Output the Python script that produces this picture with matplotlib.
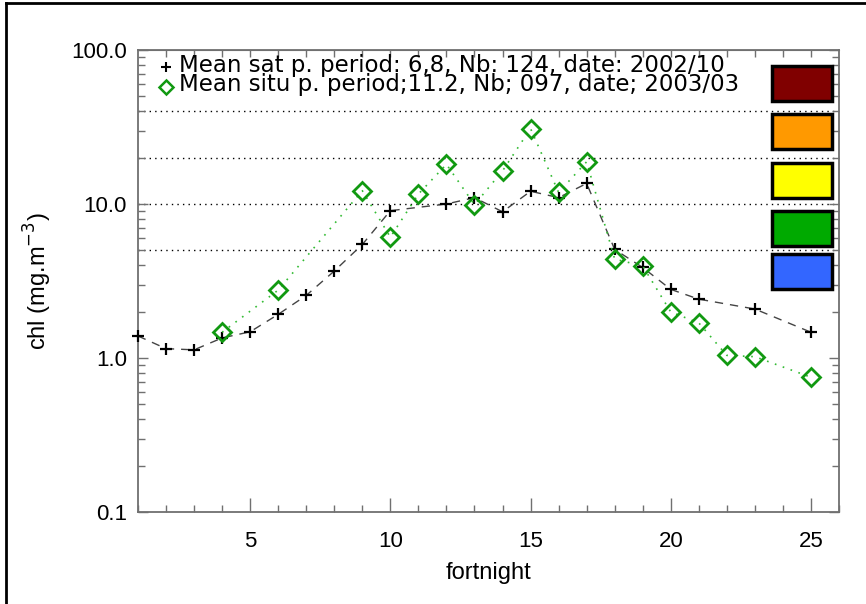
import matplotlib
matplotlib.use("Agg")
import matplotlib.pyplot as plt
from matplotlib.lines import Line2D
from matplotlib.patches import Rectangle
from matplotlib.ticker import FixedLocator, NullFormatter

# ---- data ----
sat_x = [1, 2, 3, 4, 5, 6, 7, 8, 9, 10, 12, 13, 14, 15, 16, 17, 18, 19, 20, 21, 23, 25]
sat_y = [1.39, 1.15, 1.13, 1.35, 1.48, 1.92, 2.55, 3.67, 5.46, 9.05, 10.0, 11.0,
         8.9, 12.1, 11.0, 13.6, 5.07, 3.87, 2.79, 2.41, 2.08, 1.47]
situ_x = [4, 6, 9, 10, 11, 12, 13, 14, 15, 16, 17, 18, 19, 20, 21, 22, 23, 25]
situ_y = [1.47, 2.76, 12.2, 6.09, 11.6, 18.1, 9.9, 16.4, 30.9, 11.9, 18.8, 4.39,
          3.96, 1.99, 1.69, 1.04, 1.02, 0.75]
ref_levels = [5, 10, 20, 40]
box_colors = ["#800000", "#FF9900", "#FFFF00", "#00AA00", "#3366FF"]
ytick_vals = [0.1, 1, 10, 100]
ytick_labels = ["0.1", "1.0", "10.0", "100.0"]
xtick_vals = [5, 10, 15, 20, 25]
legend_lines = ["Mean sat p. period: 6,8, Nb: 124, date: 2002/10",
                "Mean situ p. period;11.2, Nb; 097, date; 2003/03"]

W, H = 866, 604
fig = plt.figure(figsize=(W / 100, H / 100), dpi=100)
fig.patch.set_facecolor("white")

def fx(px):
    return px / W

def fy(py):
    return 1 - py / H

ax_l, ax_r, ax_t, ax_b = 138, 839, 50, 512
ax = fig.add_axes([fx(ax_l), fy(ax_b), fx(ax_r) - fx(ax_l), fy(ax_t) - fy(ax_b)])
ax.set_yscale("log")
ax.set_xlim(1, 26)
ax.set_ylim(0.1, 100)

for lv in ref_levels:
    ax.axhline(lv, color="black", linestyle=(0, (1, 3)), linewidth=1.0, zorder=1)

ax.plot(sat_x, sat_y, linestyle=(0, (6, 5)), color="#444444", linewidth=1.0,
        marker="+", markersize=8, markeredgewidth=1.6, markeredgecolor="black", zorder=3,
        clip_on=False)
ax.plot(situ_x, situ_y, linestyle=(0, (1, 4)), color="#33bb33", linewidth=1.2,
        marker="D", markersize=9, markeredgewidth=2, markerfacecolor="none",
        markeredgecolor="#119911", zorder=4)

spine_c = "#707070"
for s in ax.spines.values():
    s.set_color(spine_c)
    s.set_linewidth(1.3)

tick_font = dict(family=["Liberation Sans", "DejaVu Sans"], size=16)
ax.set_yticks(ytick_vals)
ax.set_yticklabels(ytick_labels, fontdict=tick_font)
ax.yaxis.set_minor_locator(FixedLocator([m * d for d in (0.1, 1, 10) for m in range(2, 10)]))
ax.yaxis.set_minor_formatter(NullFormatter())
ax.set_xticks(xtick_vals)
ax.set_xticklabels([str(v) for v in xtick_vals], fontdict=tick_font)
ax.xaxis.set_minor_locator(FixedLocator(list(range(1, 27))))

ax.tick_params(axis="y", which="major", direction="in", length=7, width=1, color=spine_c,
               left=True, right=True, pad=8)
ax.tick_params(axis="y", which="minor", direction="in", length=5, width=1, color=spine_c,
               left=True, right=True)
ax.tick_params(axis="x", which="major", direction="in", length=10, width=1, color=spine_c,
               bottom=True, top=False, pad=14)
ax.tick_params(axis="x", which="minor", direction="in", length=5, width=1, color=spine_c,
               bottom=True, top=False)
sec = ax.secondary_xaxis("top")
sec.set_xticks(list(range(2, 26)))
sec.tick_params(axis="x", which="major", direction="in", length=5, width=1, color=spine_c,
                labeltop=False)
sec.spines["top"].set_color(spine_c)

ax.set_xlabel("fortnight", family=["Liberation Sans", "DejaVu Sans"], fontsize=17, labelpad=7)
ax.set_ylabel("chl (mg.m$^{-3}$)", family=["Liberation Sans", "DejaVu Sans"], fontsize=17,
              labelpad=12)

# colour boxes
box_tops = [66, 114, 163, 211, 254]
for c, top in zip(box_colors, box_tops):
    fig.patches.append(Rectangle((fx(772), fy(top + 35)), fx(832) - fx(772), fy(top) - fy(top + 35),
                                 facecolor=c, edgecolor="black", linewidth=2.5,
                                 transform=fig.transFigure, zorder=10))

# legend text
fig.add_artist(Line2D([fx(166)], [fy(67)], marker="+", markersize=7, markeredgewidth=1.5,
                      color="black", linestyle="none", transform=fig.transFigure))
fig.add_artist(Line2D([fx(166)], [fy(87)], marker="D", markersize=7, markeredgewidth=1.8,
                      markerfacecolor="none", markeredgecolor="#119911", linestyle="none",
                      transform=fig.transFigure))
fig.text(fx(179), fy(75), "\n".join(legend_lines), fontsize=16.5, va="center", ha="left",
         linespacing=0.82, family=["DejaVu Sans"])

# outer frame lines
fig.add_artist(Line2D([fx(6), fx(6)], [0, fy(3)], color="black", linewidth=2,
                      transform=fig.transFigure))
fig.add_artist(Line2D([fx(6), 1], [fy(3), fy(3)], color="black", linewidth=2,
                      transform=fig.transFigure))

fig.savefig("out.png", dpi=100, facecolor="white")
